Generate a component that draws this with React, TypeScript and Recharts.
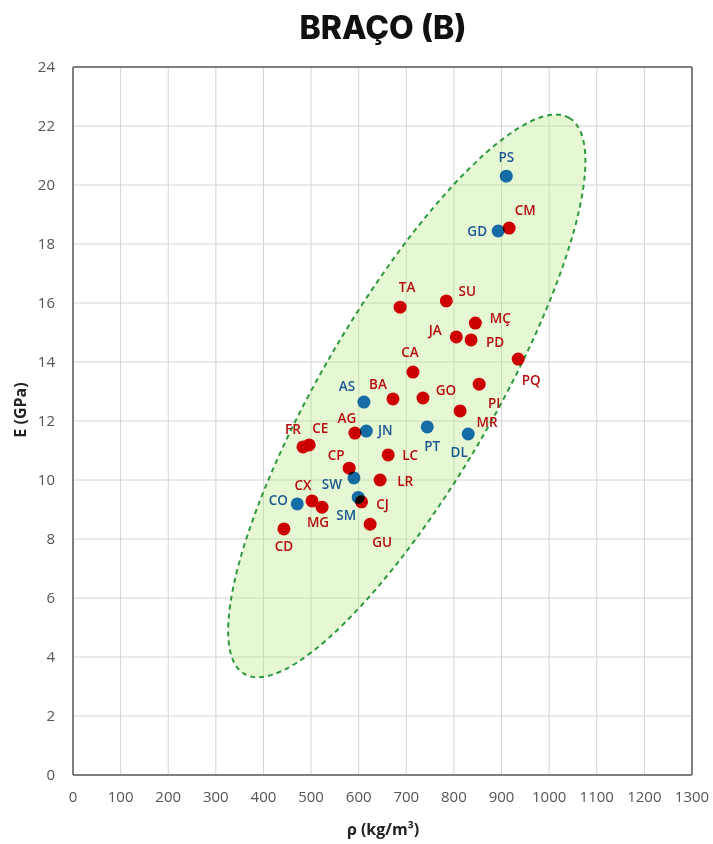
import {
  ScatterChart,
  Scatter,
  XAxis,
  YAxis,
  CartesianGrid,
  ReferenceLine,
  ReferenceDot,
} from "recharts";

// ── Data ──────────────────────────────────────────────────────────────────────

const RED_NAMES = [
  "CM", "TA", "SU", "MÇ", "JA", "PD", "PQ", "CA", "GO", "PI", "BA", "MR",
  "AG", "FR", "CE", "LC", "CP", "LR", "CX", "MG", "CJ", "GU", "CD",
];
const RED_RHO = [
  916, 687, 784, 845, 805, 836, 935, 714, 735, 853, 672, 813,
  592, 483, 496, 662, 580, 645, 502, 523, 606, 624, 443,
];
const RED_E = [
  18.54, 15.86, 16.07, 15.32, 14.85, 14.75, 14.1, 13.66, 12.78, 13.25, 12.75, 12.34,
  11.59, 11.12, 11.19, 10.85, 10.4, 10.0, 9.29, 9.08, 9.26, 8.5, 8.34,
];

const BLUE_NAMES = ["PS", "GD", "AS", "JN", "PT", "DL", "SW", "CO", "SM"];
const BLUE_RHO = [910, 893, 611, 616, 744, 830, 590, 471, 599];
const BLUE_E = [20.3, 18.44, 12.64, 11.66, 11.8, 11.56, 10.07, 9.19, 9.41];

const X_TICKS = [0, 100, 200, 300, 400, 500, 600, 700, 800, 900, 1000, 1100, 1200, 1300];
const Y_TICKS = [0, 2, 4, 6, 8, 10, 12, 14, 16, 18, 20, 22, 24];

// ellipse centre (data units)
const ELLIPSE_RHO = 701;
const ELLIPSE_E = 12.85;

// ── Label placement (px offsets from the dot) ─────────────────────────────────

const LABEL_POS: Record<string, [number, number]> = {
  PS: [0, -19], CM: [16, -18], GD: [-21, 0], TA: [7, -20], SU: [21, -10],
  "MÇ": [25, -5], JA: [-21, -7], PD: [24, 2], PQ: [13, 21], CA: [-3, -20],
  AS: [-17, -16], BA: [-15, -15], GO: [23, -8], PI: [15, 19], MR: [27, 11],
  AG: [-8, -15], JN: [19, -1], PT: [5, 19], DL: [-9, 18], FR: [-10, -18],
  CE: [11, -17], LC: [22, 0], CP: [-13, -13], SW: [-22, 6], LR: [25, 1],
  CX: [-9, -16], CO: [-19, -4], MG: [-4, 15], SM: [-12, 18], CJ: [21, 2],
  GU: [12, 18], CD: [0, 17],
};

const RED = "#cc0000";
const RED_TEXT = "#b50d0d";
const BLUE = "#1870c8";
const BLUE_TEXT = "#1a5890";
const FONT = "'Open Sans', sans-serif";

const redData = RED_NAMES.map((name, i) => ({ name, rho: RED_RHO[i], e: RED_E[i] }));
const blueData = BLUE_NAMES.map((name, i) => ({ name, rho: BLUE_RHO[i], e: BLUE_E[i] }));

function makeDot(fill: string, textFill: string, blend: boolean) {
  return (props: any) => {
    const { cx, cy, payload } = props;
    const [dx, dy] = LABEL_POS[payload.name] ?? [0, -16];
    return (
      <g>
        <circle
          cx={cx}
          cy={cy}
          r={6.5}
          fill={fill}
          style={blend ? { mixBlendMode: "multiply" } : undefined}
        />
        <text
          x={cx + dx}
          y={cy + dy}
          textAnchor="middle"
          dominantBaseline="central"
          fontFamily={FONT}
          fontWeight={600}
          fontSize={13.5}
          fill={textFill}
        >
          {payload.name}
        </text>
      </g>
    );
  };
}

function EllipseShape(props: any) {
  const { cx, cy } = props;
  return (
    <ellipse
      cx={cx}
      cy={cy}
      rx={322}
      ry={86}
      transform={`rotate(-59.7 ${cx} ${cy})`}
      fill="#b6e880"
      fillOpacity={0.35}
      stroke="#2e9a3e"
      strokeWidth={2}
      strokeDasharray="5 4"
    />
  );
}

export default function App() {
  return (
    <div style={{ position: "absolute", left: 0, top: 0, width: 713, height: 844, background: "#fff" }}>
      <div
        style={{
          position: "absolute",
          left: 0,
          top: 8,
          width: 766,
          textAlign: "center",
          fontFamily: "Inter, sans-serif",
          fontWeight: 800,
          fontSize: 32,
          color: "#111",
        }}
      >
        BRAÇO (B)
      </div>
      <div
        style={{
          position: "absolute",
          left: 0,
          top: 818,
          width: 766,
          textAlign: "center",
          fontFamily: FONT,
          fontWeight: 700,
          fontSize: 16,
          color: "#222",
        }}
      >
        ρ (kg/m³)
      </div>
      <div
        style={{
          position: "absolute",
          left: 20,
          top: 410,
          transform: "translate(-50%, -50%) rotate(-90deg)",
          fontFamily: FONT,
          fontWeight: 700,
          fontSize: 16,
          color: "#222",
          whiteSpace: "nowrap",
        }}
      >
        E (GPa)
      </div>
      <ScatterChart
        width={713}
        height={844}
        margin={{ top: 67, right: 21, bottom: 39, left: 20 }}
        style={{ position: "absolute", left: 0, top: 0 }}
      >
        <CartesianGrid stroke="#d4d4d4" strokeWidth={1} />
        <XAxis
          type="number"
          dataKey="rho"
          domain={[0, 1300]}
          ticks={X_TICKS}
          interval={0}
          height={30}
          tick={{ fontSize: 15, fill: "#555", fontFamily: FONT }}
          tickLine={false}
          axisLine={{ stroke: "#7f7f7f", strokeWidth: 2 }}
          tickMargin={10}
        />
        <YAxis
          type="number"
          dataKey="e"
          domain={[0, 24]}
          ticks={Y_TICKS}
          interval={0}
          width={53}
          tick={{ fontSize: 15, fill: "#555", fontFamily: FONT }}
          tickLine={false}
          axisLine={{ stroke: "#7f7f7f", strokeWidth: 2 }}
          tickMargin={12}
        />
        <ReferenceLine y={24} stroke="#7f7f7f" strokeWidth={2} />
        <ReferenceLine x={1300} stroke="#7f7f7f" strokeWidth={2} />
        <ReferenceDot x={ELLIPSE_RHO} y={ELLIPSE_E} shape={EllipseShape} ifOverflow="visible" />
        <Scatter
          data={redData}
          isAnimationActive={false}
          shape={makeDot(RED, RED_TEXT, false)}
        />
        <Scatter
          data={blueData}
          isAnimationActive={false}
          shape={makeDot(BLUE, BLUE_TEXT, true)}
        />
      </ScatterChart>
    </div>
  );
}
